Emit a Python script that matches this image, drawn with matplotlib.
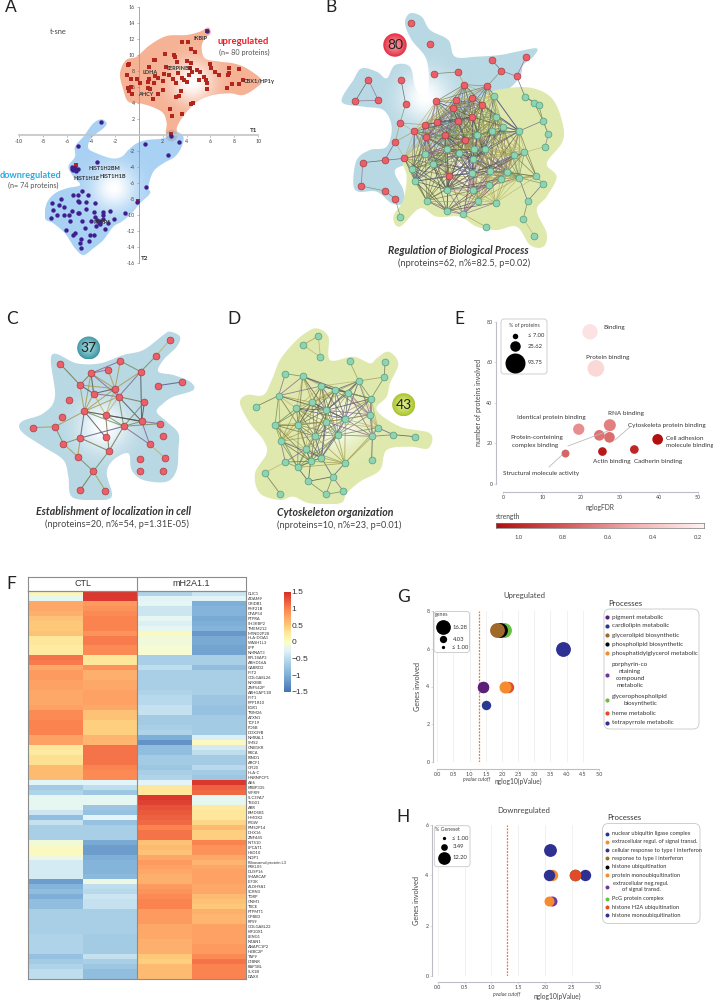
import matplotlib
matplotlib.use('Agg')
import matplotlib.pyplot as plt
import numpy as np
from matplotlib.colors import LinearSegmentedColormap, to_rgb
from matplotlib.patches import Polygon, Circle, FancyBboxPatch

plt.rcParams['font.family'] = ['Lato', 'DejaVu Sans']
plt.rcParams['axes.unicode_minus'] = False

W, H = 713, 1000

# panel A, t-sne positions
up_x = [5.7, 3.65, 4.1, 4.35, 4.7, 2.2, 2.95, 3.05, 3.2, 1.3, 1.4, -0.8, -0.9, 4.05, 4.4, 5.95, 6.05, 6.4, 6.75,
        7.55, 8.4, 7.55, 7.45, 0.9, 2.25, 4.3, 4.9, 5.1, 4.45, 4.2, 3.25, 2.1, 2.5, 1.4, 1.65, -1.0, -0.65, -0.15,
        0.85, 0.75, 0.15, 1.3, 2.0, 2.9, 3.1, 3.6, 3.8, 4.05, 5.05, 5.5, 5.65, 5.7, 5.75, 7.4, 7.8, 8.4, 8.7,
        -0.65, -0.9, -0.8, -0.55, 0.75, 0.95, 2.05, 1.65, 1.2, 3.55, 3.4, 3.1, 4.55, 4.35, 2.6, 3.6, 2.8, 2.7,
        -5.25, -0.05]
up_y = [13.0, 11.6, 11.55, 10.7, 10.35, 10.05, 10.0, 9.7, 9.1, 9.35, 9.35, 8.85, 8.7, 9.2, 8.95, 8.9, 8.3, 7.8, 7.5,
        8.35, 8.2, 7.7, 7.5, 8.5, 8.5, 8.3, 8.15, 7.8, 7.8, 7.45, 7.7, 7.6, 7.5, 7.35, 7.1, 7.5, 6.95, 7.0,
        6.95, 6.65, 6.5, 6.5, 6.75, 7.0, 6.5, 7.05, 6.8, 6.65, 6.8, 7.2, 6.85, 6.5, 5.7, 5.8, 6.3, 6.3, 6.8,
        6.0, 5.9, 5.5, 5.05, 5.9, 5.75, 5.65, 5.05, 4.5, 5.5, 4.8, 4.7, 4.0, 3.9, 3.2, 2.6, 2.4, 0.1,
        -3.8, -8.2]
down_x = [5.7, -3.15, -5.1, 0.55, 3.4, 2.7, 2.45, -3.5, -5.6, -5.5, -5.3, -5.25, -5.05, -5.55, 0.6, -0.15, -4.7, -5.5,
          -5.1, -4.25, -6.45, -7.25, -6.65, -6.2, -5.1, -5.0, -4.4, -3.65, -7.2, -5.55, -4.4, -5.1, -4.95, -6.85,
          -6.2, -5.8, -7.35, -5.75, -4.75, -4.0, -3.7, -3.0, -2.4, -1.15, -3.65, -3.0, -2.05, -3.5, -3.2, -2.95,
          -2.55, -3.35, -3.6, -3.2, -2.85, -4.5, -6.05, -5.3, -5.45, -4.1, -3.7, -4.85, -4.15, -4.9, -4.8]
down_y = [13.0, 1.65, -1.35, -1.15, -0.85, -0.15, -2.55, -3.4, -4.25, -4.45, -4.15, -4.55, -4.3, -4.05, -6.55, -8.4,
          -7.0, -7.5, -7.45, -7.5, -7.95, -8.5, -8.7, -9.0, -8.2, -8.4, -8.4, -8.45, -9.35, -9.45, -9.3, -9.7, -9.75,
          -10.0, -10.0, -10.0, -10.4, -10.7, -10.8, -10.8, -9.6, -9.65, -9.55, -9.8, -10.2, -10.0, -10.45, -10.6,
          -10.8, -10.5, -10.95, -10.95, -11.4, -11.15, -11.7, -11.65, -11.9, -12.25, -12.45, -12.5, -12.45, -12.95,
          -13.2, -13.5, -14.15]
a_ticks = [-10, -8, -6, -4, -2, 2, 4, 6, 8, 10]
a_yticks = [-16, -14, -12, -10, -8, -6, -4, -2, 2, 4, 6, 8, 10, 12, 14, 16]

# panel outlines, in crop pixels at 3x
a_up_shape = [(625, 82), (632, 100), (615, 115), (605, 140), (615, 175), (660, 185), (700, 190), (740, 205), (785, 240),
              (770, 262), (730, 285), (690, 280), (640, 285), (600, 300), (570, 325), (545, 355), (530, 385), (535, 405),
              (515, 415), (498, 400), (500, 370), (490, 340), (460, 322), (420, 310), (385, 305), (370, 270), (360, 220),
              (378, 180), (410, 170), (450, 135), (500, 108), (560, 105), (600, 95)]
a_down_shape = [(305, 358), (320, 370), (310, 385), (290, 400), (270, 420), (265, 445), (290, 460), (335, 475), (365, 470),
                (385, 450), (410, 430), (440, 420), (490, 415), (510, 400), (530, 395), (550, 410), (545, 440), (525, 470),
                (490, 490), (460, 515), (445, 560), (450, 580), (420, 610), (395, 640), (365, 665), (340, 680), (310, 720),
                (280, 745), (250, 765), (225, 745), (195, 700), (160, 670), (135, 655), (140, 610), (165, 580), (200, 565),
                (240, 555), (220, 530), (205, 500), (225, 470), (225, 440), (250, 410), (280, 370)]
b_blue_shape = [(270, 40), (305, 50), (330, 90), (385, 120), (405, 170), (470, 170), (540, 165), (590, 155), (650, 145),
                (640, 170), (610, 195), (600, 230), (560, 270), (480, 300), (440, 350), (400, 450), (390, 520), (360, 530),
                (330, 490), (290, 490), (225, 510), (250, 570), (250, 610), (215, 610), (170, 575), (115, 575), (100, 550),
                (110, 480), (150, 450), (200, 440), (215, 380), (190, 330), (130, 320), (65, 305), (100, 240), (125, 205),
                (170, 215), (200, 235), (225, 195), (270, 200), (285, 260), (305, 285), (325, 270), (320, 180), (275, 120),
                (255, 70)]
b_green_shape = [(490, 290), (560, 265), (640, 265), (700, 300), (730, 380), (725, 430), (680, 490), (710, 530), (680, 590),
                 (650, 630), (680, 700), (670, 740), (630, 735), (590, 680), (530, 690), (470, 680), (420, 650), (350, 650),
                 (300, 625), (240, 680), (220, 650), (250, 600), (260, 530), (250, 480), (300, 440), (400, 440), (440, 380)]
c_shape = [(510, 95), (540, 110), (530, 140), (490, 180), (475, 215), (520, 225), (570, 245), (580, 270), (520, 290),
           (490, 310), (470, 335), (500, 365), (535, 400), (535, 450), (530, 510), (500, 545), (430, 540), (395, 510),
           (385, 460), (340, 480), (320, 520), (335, 590), (280, 600), (215, 590), (205, 530), (190, 480), (130, 440),
           (65, 395), (65, 365), (130, 340), (165, 290), (155, 165), (230, 190), (300, 190), (370, 165), (430, 150), (490, 105)]
d_shape = [(950, 85), (985, 110), (990, 180), (1060, 170), (1110, 190), (1130, 175), (1165, 155), (1195, 190), (1170, 250),
           (1160, 290), (1130, 330), (1200, 380), (1290, 400), (1285, 445), (1230, 440), (1160, 450), (1140, 510),
           (1080, 545), (1040, 580), (1020, 610), (930, 610), (880, 590), (840, 600), (780, 580), (765, 520), (800, 460),
           (790, 420), (750, 370), (720, 310), (740, 285), (790, 285), (815, 240), (840, 180), (880, 130), (915, 100)]

# network nodes, same crop pixels
b_red = [(274, 68), (331, 132), (145, 239), (243, 239), (106, 303), (175, 301), (342, 221), (413, 216), (433, 254), (515, 179),
         (544, 212), (618, 171), (590, 229), (502, 258), (348, 304), (409, 301), (457, 294), (487, 314), (257, 312), (398, 325),
         (240, 369), (350, 365), (314, 374), (283, 394), (414, 362), (457, 351), (319, 412), (375, 405), (434, 420), (226, 425),
         (253, 475), (194, 481), (128, 488), (124, 558), (195, 573), (226, 597), (387, 527)]
b_green = [(522, 289), (615, 290), (643, 309), (656, 315), (529, 350), (669, 362), (549, 381), (516, 393), (598, 393), (685, 403),
           (675, 440), (472, 404), (380, 447), (417, 460), (462, 446), (495, 447), (460, 477), (316, 462), (340, 491), (275, 507),
           (581, 465), (613, 457), (456, 520), (511, 512), (562, 516), (597, 533), (649, 529), (543, 536), (508, 555), (285, 544),
           (380, 569), (460, 571), (669, 551), (320, 602), (475, 602), (527, 608), (623, 603), (380, 633), (430, 643), (241, 650),
           (610, 656), (497, 680), (643, 708)]
c_nodes = [(181, 192), (509, 120), (468, 168), (361, 183), (324, 209), (273, 220), (422, 215), (240, 255), (345, 266), (473, 257),
           (547, 246), (281, 281), (356, 290), (206, 299), (433, 307), (253, 334), (317, 345), (187, 352), (425, 364), (480, 371),
           (371, 379), (98, 383), (165, 380), (490, 407), (241, 414), (317, 412), (449, 433), (190, 431), (327, 453), (233, 470),
           (494, 473), (419, 478), (419, 513), (490, 513), (280, 514), (241, 570), (316, 572)]
c_edges = [(1, 2), (2, 6), (0, 7), (3, 5), (3, 6), (3, 8), (4, 5), (4, 8), (5, 7), (5, 8), (5, 11), (5, 12), (5, 15), (7, 11), (7, 8),
           (7, 15), (8, 11), (8, 12), (8, 15), (8, 16), (6, 8), (6, 12), (6, 18), (11, 12), (11, 15), (11, 16), (12, 14), (12, 15),
           (12, 16), (12, 18), (12, 20), (14, 18), (14, 20), (15, 16), (15, 20), (15, 18), (16, 20), (16, 18), (18, 20), (18, 19),
           (19, 20), (18, 26), (20, 26), (26, 30), (20, 28), (20, 24), (15, 24), (15, 22), (21, 22), (22, 27), (24, 27), (24, 29),
           (27, 29), (24, 28), (28, 34), (29, 34), (34, 35), (34, 36), (9, 10), (16, 28), (15, 25)]
d_nodes = [(955, 108), (909, 135), (961, 171), (1049, 184), (1155, 186), (856, 221), (908, 229), (1153, 231), (1076, 243), (964, 258),
           (1005, 270), (1045, 278), (836, 287), (1113, 296), (767, 320), (937, 307), (889, 325), (1036, 357), (979, 331), (1110, 344),
           (825, 375), (895, 375), (979, 366), (1133, 383), (1180, 404), (1245, 410), (1117, 409), (1013, 405), (944, 408), (842, 424),
           (917, 447), (964, 473), (1115, 481), (856, 486), (893, 502), (932, 484), (1034, 490), (794, 519), (998, 530), (925, 544),
           (1030, 574), (978, 583), (840, 581)]

# panel E
e_fdr = [22.3, 23.8, 19.4, 27.4, 27.3, 24.7, 16.0, 25.5, 33.7, 39.7]
e_count = [75, 57, 27, 29, 23, 24, 15, 16, 17, 22]
e_bubble = [121, 144, 66, 75, 59, 59, 33, 39, 39, 59]
e_strength = [0.25, 0.3, 0.6, 0.65, 0.72, 0.7, 0.75, 1.05, 1.0, 1.1]

# panel F
f_genes = ['CLIC1', 'ADAM9', 'GRIDB1', 'PHF21B', 'CFAP54', 'PTPRA', 'SH3KBP2', 'TMEM212', 'MTND2P28', 'HLA-DOA1', 'WASH1L3', 'LPP',
           'NMNAT3', 'RPL18AP3', 'ABHD16A', 'GABRD2', 'IFIT2', 'GOLGA8L26', 'NFKBIB', 'ZNF542P', 'ARHGAP11B', 'IFIT1', 'PPP1R10',
           'EGR1', 'TRIM26', 'ATXN1', 'TCF19', 'FOSB', 'DDX39B', 'NMRAL1', 'SMS2', 'GNB1KR', 'RRCA', 'RIND1', 'ABCF1', 'GFI20',
           'HLA-C', 'HNRNPCP1', 'AK6', 'KRBP335', 'WFRI9', 'SLC39A7', 'TSG01', 'ABR', 'BMD5B1', 'HMOX2', 'PIGW', 'PMS2P14', 'DHX16',
           'ZNF445', 'INTS10', 'LPCAT1', 'HSD10', 'NOP1', 'Ribosomal protein L3', 'PRKL05', 'DUSP16', 'SMARCAF', 'EIF3K', 'ALDH9A1',
           'SCRN3', 'TDRP', 'GNM1', 'TBCE', 'PTPMT1', 'GPBB3', 'RPS9', 'GOLGA8L22', 'KIF20X1', 'LENG1', 'NTAN1', 'ANAPC1P2',
           'H2BC2P', 'TAF9', 'LTBNR', 'RAP1BL', 'SLX1B', 'DAXX']
f_values = [[.1, 1.45, -.6, -.4], [-.2, 1.45, -.25, -.25], [.75, .85, -.2, -1.0], [.75, .9, -.4, -.95], [.7, .95, -.4, -.95],
            [.55, 1.0, -.2, -1.05], [.5, 1.0, -.3, -1.0], [.5, 1.0, -.2, -.95], [.55, .9, .05, -1.2], [.3, 1.05, -.1, -1.05],
            [.3, 1.05, -.1, -1.05], [.25, .95, -.05, -1.1], [.25, .95, -.05, -1.1], [1.1, .3, -.65, -.65], [1.05, .3, -.65, -.65],
            [.75, .9, -.5, -.85], [.85, .7, -.65, -.65], [.85, .7, -.65, -.65], [.8, .75, -.65, -.65], [.8, .75, -.65, -.65],
            [.75, .8, -.6, -.65], [.75, .8, -.55, -.75], [.75, .8, -.55, -.75], [.8, .75, -.45, -.8], [.95, .55, -.45, -.8],
            [.95, .55, -.7, -.7], [1.0, .45, -.7, -.7], [1.0, .45, -.65, -.7], [1.0, .45, -.6, -.7], [.8, .65, -1.0, -.3],
            [.8, .65, -1.25, .05], [.3, 1.1, -.85, -.35], [.25, 1.1, -.85, -.5], [.35, 1.1, -.7, -.7], [.35, 1.1, -.7, -.7],
            [.6, 1.0, -.75, -.55], [.6, .95, -.65, -.7], [.6, .95, -.6, -.75], [-.25, -.25, -.25, 1.45], [-.7, -.5, .3, 1.2],
            [-.6, -.75, .3, 1.15], [-.2, -.2, 1.45, -.2], [-.2, -.2, 1.4, -.2], [-.2, -.75, 1.3, .25], [-.4, -.8, 1.25, .3],
            [-.85, -.25, 1.2, .3], [-.45, -.8, 1.15, .4], [-.65, -.65, 1.0, .6], [-.65, -.65, 1.1, .45], [-.65, -.65, 1.1, .45],
            [-.1, -1.05, .55, 1.0], [.05, -1.15, .6, .9], [.05, -1.15, .55, .9], [-.15, -1.0, .75, .75], [-.35, -.95, .85, .65],
            [-.35, -.95, .8, .75], [-.35, -.95, .75, .8], [-.35, -.9, .7, .8], [-1.15, -.15, .7, .8], [-.95, -.5, .85, .75],
            [-.85, -.55, .9, .75], [-1.0, -.4, .95, .6], [-.85, -.45, 1.0, .55], [-.85, -.45, 1.0, .5], [-.65, -.65, .85, .7],
            [-.65, -.65, .85, .65], [-.65, -.65, .85, .65], [-.65, -.65, .75, .8], [-.65, -.65, .75, .8], [-.6, -.7, .75, .8],
            [-.6, -.7, .7, .8], [-.6, -.7, .7, .85], [-.6, -.7, .7, .85], [-.8, -.45, .5, .95], [-.7, -.65, .45, 1.1],
            [-.6, -.75, .6, 1.0], [-.5, -.85, .6, 1.0], [-.5, -.85, .6, 1.0]]
f_cbar_ticks = [1.5, 1, 0.5, 0, -0.5, -1, -1.5]
f_cbar_labels = ['1.5', '1', '0.5', '0', '\u22120.5', '\u22121', '\u22121.5']

# panel G
g_colors = ['#5c1f78', '#2b3990', '#a0692a', '#000000', '#f58b30', '#6b3a9e', '#6abd45', '#e5492b', '#2e3192']
g_pvalue = [1.4, 1.5, 1.85, 1.95, 2.1, 1.4, 2.05, 2.2, 3.9]
g_genes = [4, 3, 7, 7, 4, 4, 7, 4, 6]
g_size = [9.6, 6.6, 16.28, 16.28, 10.7, 9.6, 16.28, 9.6, 16.28]
g_draw_order = [5, 0, 1, 6, 3, 2, 7, 4, 8]

# panel H
h_names = ['nuclear ubiquitin ligase complex', 'extracellular regul. of signal transd.', 'cellular response to type I interferon',
           'response to type I interferon', 'histone ubiquitination', 'protein monoubiquitination', 'extracellular neg.regul.\nof signal transd.',
           'PcG protein complex', 'histone H2A ubiquitination', 'histone monoubiquitination']
h_colors = ['#2e3192', '#f58b30', '#2e3192', '#a0692a', '#000000', '#f58b30', '#6b3a9e', '#6abd45', '#e5492b', '#2e3192']
h_pvalue = [2.75, 2.13, 2.08, 2.1, 2.55, 2.08, 2.13, 2.55, 2.55, 2.1]
h_genes = [4, 4, 4, 5, 4, 3, 3, 4, 4, 5]
h_size = [9.6, 9.6, 9.6, 9.6, 9.6, 7.4, 7.4, 9.6, 9.6, 12.2]
h_draw_order = [0, 4, 7, 8, 1, 2, 6, 5, 3, 9]


def px_axes(fig, left, top, right, bottom, zorder=1):
    ax = fig.add_axes([left / W, 1 - bottom / H, (right - left) / W, (bottom - top) / H], zorder=zorder)
    ax.patch.set_alpha(0)
    return ax


def crop(points, ox=0, oy=0):
    arr = np.asarray(points, dtype=float) / 3
    return arr + [ox, oy]


def smooth_closed(pts, steps=10):
    # closed catmull-rom through the outline points
    out = []
    n = len(pts)
    for i in range(n):
        p0, p1, p2, p3 = pts[i - 1], pts[i], pts[(i + 1) % n], pts[(i + 2) % n]
        for t in np.linspace(0, 1, steps, endpoint=False):
            out.append(0.5 * (2 * p1 + (p2 - p0) * t + (2 * p0 - 5 * p1 + 4 * p2 - p3) * t ** 2
                              + (3 * p1 - p0 - 3 * p2 + p3) * t ** 3))
    return np.array(out)


def blob(ax, outline, color, center, radius, inner='white', zorder=1):
    patch = Polygon(smooth_closed(outline), closed=True, facecolor='none', edgecolor='none', zorder=zorder)
    x0, y0 = patch.get_xy().min(axis=0)
    x1, y1 = patch.get_xy().max(axis=0)
    xs = np.linspace(x0, x1, int(x1 - x0) * 3 + 2)
    ys = np.linspace(y0, y1, int(y1 - y0) * 3 + 2)
    xx, yy = np.meshgrid(xs, ys)
    mix = np.exp(-((xx - center[0]) ** 2 + (yy - center[1]) ** 2) / radius ** 2)[..., None]
    rgb = np.array(to_rgb(color)) * (1 - mix) + np.array(to_rgb(inner)) * mix
    ax.add_patch(patch)
    im = ax.imshow(rgb, extent=(x0, x1, y1, y0), origin='upper', aspect='auto', zorder=zorder)
    im.set_clip_path(patch)


def badge(ax, x, y, r, color, inner, label):
    n = 60
    xs = np.linspace(x - r, x + r, n)
    ys = np.linspace(y - r, y + r, n)
    xx, yy = np.meshgrid(xs, ys)
    mix = np.clip(1 - np.hypot(xx - x, yy - y) / r, 0, 1)[..., None] ** 0.8
    rgb = np.array(to_rgb(color)) * (1 - mix) + np.array(to_rgb(inner)) * mix
    im = ax.imshow(rgb, extent=(x - r, x + r, y + r, y - r), origin='upper', aspect='auto', zorder=3)
    circ = Circle((x, y), r, facecolor='none', edgecolor='none', zorder=3)
    ax.add_patch(circ)
    im.set_clip_path(circ)
    ax.text(x, y, label, ha='center', va='center', fontsize=10, color='#222222', zorder=4)


def near_edges(nodes, center, core_r, link_r, near_r):
    edges = []
    for i in range(len(nodes)):
        for j in range(i + 1, len(nodes)):
            d = np.hypot(*(nodes[i] - nodes[j]))
            in_core = (np.hypot(*(nodes[i] - center)) < core_r and np.hypot(*(nodes[j] - center)) < core_r)
            if d < near_r or (in_core and d < link_r):
                edges.append((i, j))
    return edges


EDGE_COLORS = ['#6f6f45', '#8a5f8a', '#55557f', '#a39a4a', '#6d8a58', '#4f4f4f', '#b7b36a']


def draw_edges(ax, nodes, edges, lw=0.5):
    for i, j in edges:
        c = EDGE_COLORS[(i * 7 + j * 3) % len(EDGE_COLORS)]
        ax.plot([nodes[i, 0], nodes[j, 0]], [nodes[i, 1], nodes[j, 1]], color=c, lw=lw, alpha=0.8, zorder=2)


def draw_nodes(ax, nodes, face, edge):
    ax.scatter(nodes[:, 0], nodes[:, 1], s=24, c=face, edgecolors=edge, linewidths=0.5, zorder=3)


def light_axis(ax, xticks, yticks, xfmt='{:.1f}', yfmt='{:.0f}', color='#bdbdc8', out_left=4, out_bottom=5):
    for s in ('top', 'right'):
        ax.spines[s].set_visible(False)
    ax.spines['left'].set_position(('outward', out_left))
    ax.spines['bottom'].set_position(('outward', out_bottom))
    ax.spines['left'].set_color(color)
    ax.spines['bottom'].set_color(color)
    ax.spines['left'].set_linewidth(0.8)
    ax.spines['bottom'].set_linewidth(0.8)
    ax.set_xticks(xticks)
    ax.set_xticklabels([xfmt.format(v) for v in xticks])
    ax.set_yticks(yticks)
    ax.set_yticklabels([yfmt.format(v) for v in yticks])
    ax.tick_params(labelsize=3.8, length=1.5, width=0.4, color=color, labelcolor='#444444', pad=1.2)


def size_legend(ax, box, title, title_xy, marks, labels, label_x):
    x0, y0, x1, y1 = box
    ax.add_patch(FancyBboxPatch((x0 + 3, y0 + 3), x1 - x0 - 6, y1 - y0 - 6, boxstyle='round,pad=3,rounding_size=3',
                                facecolor='white', edgecolor='#c8c8c8', lw=0.6, zorder=5))
    ax.text(title_xy[0], title_xy[1], title, fontsize=3.8, ha='center', va='center', color='#444444', zorder=6)
    for (mx, my, d), lab in zip(marks, labels):
        ax.scatter([mx], [my], s=(d * 0.72) ** 2, c='black', linewidths=0, zorder=6)
        ax.text(label_x, my, lab, fontsize=4.2, va='center', ha='left', color='#333333', zorder=6)


fig = plt.figure(figsize=(W / 100, H / 100), dpi=100, facecolor='white')

bg = px_axes(fig, 0, 0, W, H, zorder=0)
fg = px_axes(fig, 0, 0, W, H, zorder=5)
for a in (bg, fg):
    a.axis('off')

# --- A backgrounds
blob(bg, crop(a_up_shape), '#f5b295', (192, 83), 20)
blob(bg, crop(a_down_shape), '#a9d1f3', (113, 188), 21)

# --- B
blob(bg, crop(b_blue_shape, 320), '#b8d8e4', (425, 97), 24)
blob(bg, crop(b_green_shape, 320), '#dfe9ad', (470, 165), 20, zorder=1.5)
br = crop(b_red, 320)
bgn = crop(b_green, 320)
b_all = np.vstack([br, bgn])
draw_edges(bg, b_all, near_edges(b_all, np.array([472, 148]), 72, 58, 26))
draw_nodes(bg, br, '#ea5f68', '#a83c40')
draw_nodes(bg, bgn, '#8fd4b2', '#4f9c80')
badge(bg, 395, 45, 11.7, '#e3263b', '#f7a0a5', '80')

# --- C
blob(bg, crop(c_shape, 0, 300), '#b8d8e4', (103, 427), 24)
cn = crop(c_nodes, 0, 300)
draw_edges(bg, cn, c_edges, lw=0.75)
draw_nodes(bg, cn, '#ea5f68', '#a83c40')
badge(bg, 88.7, 348, 11.5, '#3d93a3', '#a5dde0', '37')

# --- D
blob(bg, crop(d_shape, 0, 300), '#dfe9ad', (337, 423), 24)
dn = crop(d_nodes, 0, 300)
draw_edges(bg, dn, near_edges(dn, np.array([327, 420]), 56, 52, 26), lw=0.6)
draw_nodes(bg, dn, '#8fd4b2', '#4f9c80')
badge(bg, 403.7, 404.7, 11.5, '#a5c12a', '#e6f08c', '43')

bg.set_xlim(0, W)
bg.set_ylim(H, 0)
fg.set_xlim(0, W)
fg.set_ylim(H, 0)

# --- A scatter
ax_a = px_axes(fig, 19, 6.7, 258.3, 263)
ax_a.set_xlim(-10, 10)
ax_a.set_ylim(-16, 16)
ax_a.spines['left'].set_position(('data', 0))
ax_a.spines['bottom'].set_position(('data', 0))
ax_a.spines['top'].set_visible(False)
ax_a.spines['right'].set_visible(False)
ax_a.spines['bottom'].set_color('#c4c4c4')
ax_a.spines['bottom'].set_linewidth(1.2)
ax_a.spines['left'].set_color('#9a9a9a')
ax_a.spines['left'].set_linewidth(0.6)
ax_a.set_xticks(a_ticks)
ax_a.set_yticks(a_yticks)
ax_a.set_xticklabels([str(v) for v in a_ticks])
ax_a.set_yticklabels([str(v) for v in a_yticks])
ax_a.tick_params(labelsize=3.8, length=1.5, width=0.4, color='#888888', labelcolor='#444444', pad=1.2)
ax_a.scatter([2.7], [0], s=70, c='#999999', alpha=0.4, linewidths=0, zorder=2)
ax_a.scatter(up_x, up_y, marker='s', s=9, c='#b3261e', linewidths=0, zorder=3, clip_on=False)
ax_a.scatter(down_x, down_y, marker='o', s=10, c='#3f1f8f', linewidths=0, zorder=4, clip_on=False)

for label, x, y in [('IKBIP', 200, 39), ('SERPINB8', 180, 69), ('LDHA', 150, 72), ('AHCY', 146, 94),
                    ('CBX1/HP1\u03b3', 259, 81), ('HIST1H2BM', 104, 168), ('HIST1H1B', 113, 176),
                    ('HIST1H1E', 87, 179), ('PARP1', 102, 222)]:
    fg.text(x, y, label, fontsize=4.0, fontweight='bold', ha='center', va='center', color='#333333')
fg.text(243, 41.5, 'upregulated', fontsize=6.8, fontweight='bold', color='#ed1c24', ha='center', va='center')
fg.text(244, 52, '(n= 80 proteins)', fontsize=5.2, color='#555555', ha='center', va='center')
fg.text(31, 176, 'downregulated', fontsize=6.6, fontweight='bold', color='#29abe2', ha='center', va='center')
fg.text(33.5, 185.5, '(n= 74 proteins)', fontsize=5.2, color='#555555', ha='center', va='center')
fg.text(58, 31, 't-sne', fontsize=5.4, color='#444444', ha='center', va='center')
fg.text(254, 131, 'T1', fontsize=4.6, fontweight='bold', color='#333333', ha='center', va='center')
fg.text(145, 258, 'T2', fontsize=4.6, fontweight='bold', color='#333333', ha='center', va='center')

# --- network captions
for x, y, title, sx, sy, sub in [
        (458, 251, 'Regulation of Biological Process', 464, 263, '(nproteins=62, n%=82.5, p=0.02)'),
        (113, 511, 'Establishment of localization in cell', 117, 524, '(nproteins=20, n%=54, p=1.31E-05)'),
        (335, 512, 'Cytoskeleton organization', 339, 525, '(nproteins=10, n%=23, p=0.01)')]:
    fg.text(x, y, title, fontsize=7.6, fontweight='bold', fontstyle='italic', color='#333333', ha='center', va='center')
    fg.text(sx, sy, sub, fontsize=6.6, color='#444444', ha='center', va='center')

# --- E
e_cmap = LinearSegmentedColormap.from_list('strength', ['#fff4f4', '#f3b0b0', '#d45a5a', '#b30f0f'])
e_norm = plt.Normalize(0.17, 1.1)
ax_e = px_axes(fig, 503.3, 321.7, 697.7, 484)
ax_e.set_xlim(0, 50)
ax_e.set_ylim(0, 80)
light_axis(ax_e, [0, 10, 20, 30, 40, 50], [0, 20, 40, 60, 80], xfmt='{:.0f}', out_left=5, out_bottom=5.5)
ax_e.scatter(e_fdr, e_count, s=e_bubble, c=e_strength, cmap=e_cmap, norm=e_norm, linewidths=0, clip_on=False, zorder=3)
ax_e.set_xlabel('nglogFDR', fontsize=4.8, color='#444444', labelpad=2.5)
ax_e.set_ylabel('number of proteins involved', fontsize=5, color='#444444', labelpad=3)

e_labels = [('Binding', 603, 328, 'left'), ('Protein binding', 608, 357, 'center'), ('Identical protein binding', 551, 417, 'center'),
            ('RNA binding', 626, 414, 'center'), ('Cytoskeleta protein binding', 667, 425, 'center'),
            ('Protein-conteining', 536.5, 438, 'center'), ('complex binding', 535, 446, 'center'), ('Cell adhesion', 666, 438, 'left'),
            ('molecule binding', 666, 446, 'left'), ('Actin binding', 612, 461.5, 'center'), ('Cadherin binding', 658, 461.5, 'center'),
            ('Structural molecule activity', 541, 473, 'center')]
for label, x, y, ha in e_labels:
    fg.text(x, y, label, fontsize=4.6, color='#333333', ha=ha, va='center')
fg.plot([568, 608], [446, 431], color='#bbbbbb', lw=0.6)
fg.plot([549, 562], [467, 455], color='#bbbbbb', lw=0.6)
fg.plot([615, 630], [440, 427], color='#bbbbbb', lw=0.6)

size_legend(fg, (501, 319, 547, 374), '% of proteins', (524, 325),
            [(514.5, 335.5, 5.5), (514.5, 346, 10.5), (514.5, 362.5, 20)], ['\u2264 7.00', '25.62', '93.75'], 528)
fg.text(496, 516, 'strength', fontsize=4.8, color='#444444', ha='left', va='center')

ax_s = px_axes(fig, 496, 522.7, 704.3, 528)
ax_s.imshow(np.linspace(1.1, 0.17, 300)[None, :], cmap=e_cmap, norm=e_norm, aspect='auto', extent=(1.1, 0.17, 0, 1))
ax_s.set_yticks([])
ax_s.set_xticks([1.0, 0.8, 0.6, 0.4, 0.2])
ax_s.set_xticklabels(['1.0', '0.8', '0.6', '0.4', '0.2'])
ax_s.tick_params(labelsize=4.2, length=0, pad=5, labelcolor='#444444')
for sp in ax_s.spines.values():
    sp.set_color('#777777')
    sp.set_linewidth(0.5)

# --- F
f_stops = [(-1.5, '#4575b4'), (-1.0, '#7fb0d8'), (-0.65, '#a9cfe6'), (-0.25, '#e2f4f8'), (0.0, '#fbfdc8'), (0.3, '#fee79a'),
           (0.5, '#fdc877'), (0.75, '#fda96a'), (1.0, '#fb8450'), (1.5, '#d7302a')]
f_cmap = LinearSegmentedColormap.from_list('rdylbu', [((v + 1.5) / 3, c) for v, c in f_stops])
f_arr = np.array(f_values)
ax_f = px_axes(fig, 28.3, 590.7, 246, 979)
ax_f.pcolormesh(f_arr, cmap=f_cmap, vmin=-1.5, vmax=1.5)
ax_f.invert_yaxis()
ax_f.axvline(2, color='#8c8c8c', lw=0.8)
ax_f.set_xticks([])
ax_f.yaxis.tick_right()
ax_f.set_yticks(np.arange(len(f_genes)) + 0.5)
ax_f.set_yticklabels(f_genes)
ax_f.tick_params(axis='y', labelsize=3, length=0, pad=1.5, labelcolor='#333333')
for sp in ax_f.spines.values():
    sp.set_color('#8c8c8c')
    sp.set_linewidth(0.8)

ax_fh = px_axes(fig, 28.3, 577.3, 246, 590.7)
ax_fh.set_xlim(0, 2)
ax_fh.set_ylim(0, 1)
ax_fh.set_xticks([])
ax_fh.set_yticks([])
ax_fh.axvline(1, color='#8c8c8c', lw=0.8)
ax_fh.text(0.5, 0.5, 'CTL', fontsize=6.5, ha='center', va='center', color='#333333', family=['Liberation Sans'])
ax_fh.text(1.5, 0.5, 'mH2A1.1', fontsize=6.5, ha='center', va='center', color='#333333', family=['Liberation Sans'])
for sp in ax_fh.spines.values():
    sp.set_color('#8c8c8c')
    sp.set_linewidth(0.8)

ax_c = px_axes(fig, 283.7, 592, 290, 691.7)
ax_c.imshow(np.linspace(1.5, -1.5, 200)[:, None], cmap=f_cmap, vmin=-1.5, vmax=1.5, aspect='auto', extent=(0, 1, -1.5, 1.5))
ax_c.set_xticks([])
ax_c.yaxis.tick_right()
ax_c.set_yticks(f_cbar_ticks)
ax_c.set_yticklabels(f_cbar_labels, family=['Liberation Sans'])
ax_c.tick_params(axis='y', labelsize=6, length=0, pad=1, labelcolor='#333333')
for sp in ax_c.spines.values():
    sp.set_visible(False)

# --- G
ax_g = px_axes(fig, 437.3, 610.7, 599, 762.3)
ax_g.set_xlim(0, 5)
ax_g.set_ylim(0, 8)
light_axis(ax_g, np.arange(0, 5.5, 0.5), [0, 2, 4, 6, 8], out_left=3, out_bottom=4.5)
ax_g.grid(axis='x', color='#ececec', lw=0.5)
ax_g.set_axisbelow(True)
ax_g.axvline(1.3, color='#f07a35', lw=0.9, ls=(0, (1.6, 1.0)), zorder=2)
for i in g_draw_order:
    ax_g.scatter([g_pvalue[i]], [g_genes[i]], s=g_size[i] * 7, c=g_colors[i], linewidths=0, clip_on=False, zorder=3)
ax_g.set_ylabel('Genes involved', fontsize=5.2, color='#444444', labelpad=4)
fg.text(524, 595.5, 'Upregulated', fontsize=5.6, color='#444444', ha='center', va='center')
fg.text(518, 781.5, 'nglog10(pValue)', fontsize=4.8, color='#444444', ha='center', va='center')
fg.text(476.5, 779, 'pvalue cutoff', fontsize=3.6, color='#444444', ha='center', va='center', fontstyle='italic')
size_legend(fg, (434, 611.5, 469.5, 652.5), 'genes', (441.5, 614.5),
            [(442.7, 627.3, 14.7), (442.7, 639.3, 7.3), (442.7, 647.3, 3.3)], ['16.28', '4.03', '\u2264 1.00'], 452.5)
fg.text(625, 603.5, 'Processes', fontsize=5.6, color='#333333', ha='center', va='center')
fg.add_patch(FancyBboxPatch((608, 613), 87, 112, boxstyle='round,pad=4,rounding_size=6', facecolor='white', edgecolor='#c8c8c8', lw=0.6))
g_rows = [('pigment metabolic', 111, 636, 'left', 0), ('cardiolipin metabolic', 138, 636, 'left', 1),
          ('glycerolipid biosynthetic', 166, 636, 'left', 2), ('phospholipid biosynthetic', 193, 636, 'left', 3),
          ('phosphatidylglycerol metabolic', 220, 636, 'left', 4), ('porphyrin-co\nntaining\ncompound\nmetabolic', 284, 690, 'center', 5),
          ('glycerophospholipid\nbiosynthetic', 360, 720, 'center', 6), ('heme metabolic', 400, 636, 'left', 7),
          ('tetrapyrrole metabolic', 428, 636, 'left', 8)]
for label, zy, zx, ha, idx in g_rows:
    fg.scatter([400 + 622 / 3], [580 + zy / 3], s=9, c=g_colors[idx], linewidths=0, zorder=6)
    fg.text(400 + zx / 3, 580 + zy / 3, label, fontsize=4.5, color='#333333', ha=ha, va='center', linespacing=1.5, zorder=6)

# --- H
ax_h = px_axes(fig, 437.7, 825, 598.7, 976)
ax_h.set_xlim(0, 3)
ax_h.set_ylim(0, 6)
light_axis(ax_h, np.arange(0, 3.5, 0.5), [0, 2, 4, 6], out_left=4, out_bottom=4)
ax_h.grid(axis='x', color='#ececec', lw=0.5)
ax_h.set_axisbelow(True)
ax_h.axvline(1.3, color='#f07a35', lw=0.9, ls=(0, (1.6, 1.0)), zorder=2)
for i in h_draw_order:
    ax_h.scatter([h_pvalue[i]], [h_genes[i]], s=h_size[i] * 7, c=h_colors[i], linewidths=0, clip_on=False, zorder=3)
ax_h.set_ylabel('Genes involved', fontsize=5.2, color='#444444', labelpad=4)
fg.text(524, 810, 'Downregulated', fontsize=5.6, color='#444444', ha='center', va='center')
fg.text(557.5, 996, 'nglog10(pValue)', fontsize=4.8, color='#444444', ha='center', va='center')
fg.text(507, 994, 'pvalue cutoff', fontsize=3.6, color='#444444', ha='center', va='center', fontstyle='italic')
size_legend(fg, (434.3, 825.7, 470, 866.7), '% Geneset', (447.5, 829.5),
            [(443.7, 838.3, 3.3), (443.7, 846.7, 6.7), (443.7, 857.7, 12.7)], ['\u2264 1.00', '3.49', '12.20'], 452.5)
fg.text(624, 818, 'Processes', fontsize=5.6, color='#333333', ha='center', va='center')
fg.add_patch(FancyBboxPatch((606.5, 827.5), 89.5, 92, boxstyle='round,pad=4,rounding_size=6', facecolor='white', edgecolor='#c8c8c8', lw=0.6))
h_rows = [131, 156, 181, 205, 230, 255, 290, 326, 351, 375]
for label, zy, color in zip(h_names, h_rows, h_colors):
    y = 790 + zy / 3
    fg.scatter([400 + 622 / 3], [y], s=8, c=color, linewidths=0, zorder=6)
    if '\n' in label:
        fg.text(400 + 723 / 3, y, label, fontsize=4.1, color='#333333', ha='center', va='center', linespacing=1.3, zorder=6)
    else:
        fg.text(400 + 636 / 3, y, label, fontsize=4.1, color='#333333', ha='left', va='center', zorder=6)

# panel letters
for letter, x, y in [('A', 11, 7), ('B', 331, 7), ('C', 12, 319), ('D', 234, 319), ('E', 459, 319),
                     ('F', 11, 584), ('G', 403, 597), ('H', 403, 817)]:
    fg.text(x, y, letter, fontsize=12.5, color='#222222', ha='center', va='center')

fg.set_xlim(0, W)
fg.set_ylim(H, 0)
fig.savefig('out.png', dpi=100, facecolor='white')
